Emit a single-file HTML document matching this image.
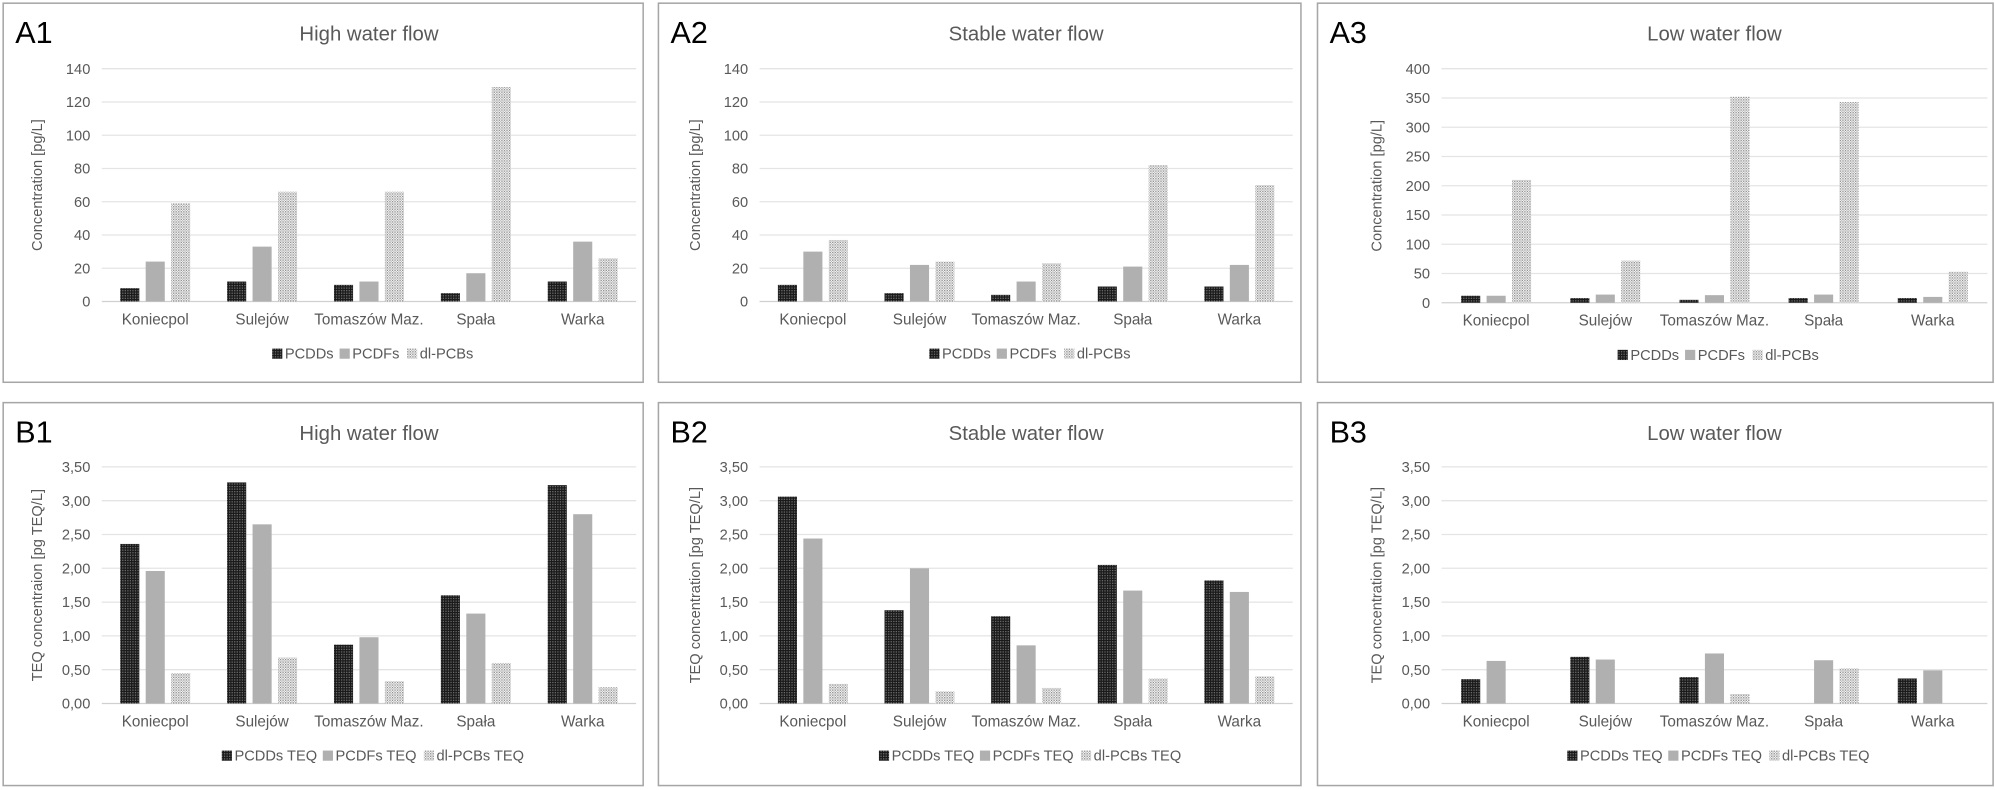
<!DOCTYPE html>
<html><head><meta charset="utf-8">
<style>
html,body{margin:0;padding:0;background:#fff;}
svg{display:block;font-family:"Liberation Sans",sans-serif;}
</style></head>
<body>
<svg id="fig" width="1995" height="790" viewBox="0 0 1568 621" preserveAspectRatio="none" xmlns="http://www.w3.org/2000/svg">
<defs>
<pattern id="pDark" width="2" height="2" patternUnits="userSpaceOnUse"><rect width="2" height="2" fill="#1a1a1a"/><rect width="1" height="1" fill="#6a6a6a"/></pattern>
<pattern id="pHatch" width="2" height="2" patternUnits="userSpaceOnUse"><rect width="2" height="2" fill="#f4f4f4"/><rect width="1" height="1" fill="#8f8f8f"/><rect x="1" y="1" width="1" height="1" fill="#c0c0c0"/></pattern>
</defs>
</svg>
<script>
const categories = ["Koniecpol","Sulejów","Tomaszów Maz.","Spała","Warka"];
const a1PCDDs = [8,12,10,5,12];
const a1PCDFs = [24,33,12,17,36];
const a1PCBs = [59,66,66,129,26];
const a2PCDDs = [10,5,4,9,9];
const a2PCDFs = [30,22,12,21,22];
const a2PCBs = [37,24,23,82,70];
const a3PCDDs = [12,8,5,8,8];
const a3PCDFs = [12,14,13,14,10];
const a3PCBs = [210,72,352,343,53];
const b1PCDDs = [2.36,3.27,0.87,1.60,3.23];
const b1PCDFs = [1.96,2.65,0.98,1.33,2.80];
const b1PCBs = [0.45,0.68,0.33,0.60,0.24];
const b2PCDDs = [3.06,1.38,1.29,2.05,1.82];
const b2PCDFs = [2.44,2.00,0.86,1.67,1.65];
const b2PCBs = [0.29,0.18,0.23,0.37,0.40];
const b3PCDDs = [0.36,0.69,0.39,0,0.37];
const b3PCDFs = [0.63,0.65,0.74,0.64,0.49];
const b3PCBs = [0,0,0.14,0.52,0];
const ticksA12 = [0,20,40,60,80,100,120,140];
const ticksA3 = [0,50,100,150,200,250,300,350,400];
const ticksB = ["0,00","0,50","1,00","1,50","2,00","2,50","3,00","3,50"];
const legendA = ["PCDDs","PCDFs","dl-PCBs"];
const legendB = ["PCDDs TEQ","PCDFs TEQ","dl-PCBs TEQ"];

const NS="http://www.w3.org/2000/svg";
const svg=document.getElementById('fig');
function mk(tag,attrs,parent,text){const e=document.createElementNS(NS,tag);for(const k in attrs)e.setAttribute(k,attrs[k]);if(text!==undefined)e.textContent=text;(parent||svg).appendChild(e);return e;}
const fills=["url(#pDark)","#b0b0b0","url(#pHatch)"];

function panel(cfg){
  const g=mk('g',{});
  
  
  const fr=mk('rect',{x:cfg.x0+0.5,y:cfg.y0+0.5,width:cfg.x1-cfg.x0,height:cfg.y1-cfg.y0,fill:'#fff',stroke:'#a6a6a6','stroke-width':1.2},g);
  
  const lab=mk('text',{x:cfg.x0+10,y:cfg.y0+32,'font-size':24,fill:'#000'},g,cfg.id);
  
  const tt=mk('text',{x:(cfg.px0+cfg.px1)/2,y:cfg.y0+30,'font-size':16,fill:'#595959','text-anchor':'middle'},g,cfg.title);
  
  const yScale=v=>cfg.py0-(v/cfg.max)*(cfg.py0-cfg.py1);
  cfg.ticks.forEach((t,i)=>{
    const v=i*cfg.step;const y=yScale(v);
    const gl=mk('line',{x1:cfg.px0,x2:cfg.px1,y1:y,y2:y,stroke:i===0?'#d0d0d0':'#e4e4e4','stroke-width':1},g);
    
    const tl=mk('text',{x:cfg.px0-9,y:y+4,'font-size':11.5,fill:'#595959','text-anchor':'end'},g,String(t));
    
  });
  const ymid=(cfg.py0+cfg.py1)/2, ax=cfg.px0-47;
  const at=mk('text',{x:ax,y:ymid,'font-size':11.5,fill:'#595959','text-anchor':'middle',transform:`rotate(-90 ${ax} ${ymid})`},g,cfg.ytitle);
  
  const band=(cfg.px1-cfg.px0)/categories.length;
  const bw=15, off=20;
  categories.forEach((c,i)=>{
    const cx=cfg.px0+band*(i+0.5);
    cfg.series.forEach((s,j)=>{
      const v=s[i]; if(!(v>0))return;
      const y=yScale(v);
      const r=mk('rect',{x:cx+(j-1)*off-bw/2,y:y,width:bw,height:cfg.py0-y,fill:fills[j]},g);
      
      
    });
    const cl=mk('text',{x:cx,y:cfg.py0+18,'font-size':12,fill:'#595959','text-anchor':'middle'},g,c);
    
  });
  const names=cfg.legend; const widths=names.map(n=>n.length*6.6+20);
  const total=widths.reduce((a,b)=>a+b,0);
  let lx=(cfg.px0+cfg.px1)/2-total/2+10; const ly=cfg.py0+45;
  names.forEach((n,j)=>{
    const sw=mk('rect',{x:lx,y:ly-8,width:8,height:8,fill:fills[j]},g);
    
    const lt=mk('text',{x:lx+10,y:ly,'font-size':11.5,fill:'#595959'},g,n);
    
    lx+=widths[j];
  });
}
const topY=[2,300], botY=[316,617];
const A={py1:54,py0:237}, B={py1:367,py0:553};
panel({id:'A1',title:'High water flow',x0:2,x1:505,y0:topY[0],y1:topY[1],px0:80,px1:500,py0:A.py0,py1:A.py1,ticks:ticksA12,step:20,max:140,ytitle:'Concentration [pg/L]',series:[a1PCDDs,a1PCDFs,a1PCBs],legend:legendA});
panel({id:'A2',title:'Stable water flow',x0:517,x1:1022,y0:topY[0],y1:topY[1],px0:597,px1:1016,py0:A.py0,py1:A.py1,ticks:ticksA12,step:20,max:140,ytitle:'Concentration [pg/L]',series:[a2PCDDs,a2PCDFs,a2PCBs],legend:legendA});
panel({id:'A3',title:'Low water flow',x0:1035,x1:1566,y0:topY[0],y1:topY[1],px0:1133,px1:1562,py0:238,py1:54,ticks:ticksA3,step:50,max:400,ytitle:'Concentration [pg/L]',series:[a3PCDDs,a3PCDFs,a3PCBs],legend:legendA});
panel({id:'B1',title:'High water flow',x0:2,x1:505,y0:botY[0],y1:botY[1],px0:80,px1:500,py0:B.py0,py1:B.py1,ticks:ticksB,step:0.5,max:3.5,ytitle:'TEQ concentraion [pg TEQ/L]',series:[b1PCDDs,b1PCDFs,b1PCBs],legend:legendB});
panel({id:'B2',title:'Stable water flow',x0:517,x1:1022,y0:botY[0],y1:botY[1],px0:597,px1:1016,py0:B.py0,py1:B.py1,ticks:ticksB,step:0.5,max:3.5,ytitle:'TEQ concentration [pg TEQ/L]',series:[b2PCDDs,b2PCDFs,b2PCBs],legend:legendB});
panel({id:'B3',title:'Low water flow',x0:1035,x1:1566,y0:botY[0],y1:botY[1],px0:1133,px1:1562,py0:B.py0,py1:B.py1,ticks:ticksB,step:0.5,max:3.5,ytitle:'TEQ concentration [pg TEQ/L]',series:[b3PCDDs,b3PCDFs,b3PCBs],legend:legendB});
</script>
</body></html>
